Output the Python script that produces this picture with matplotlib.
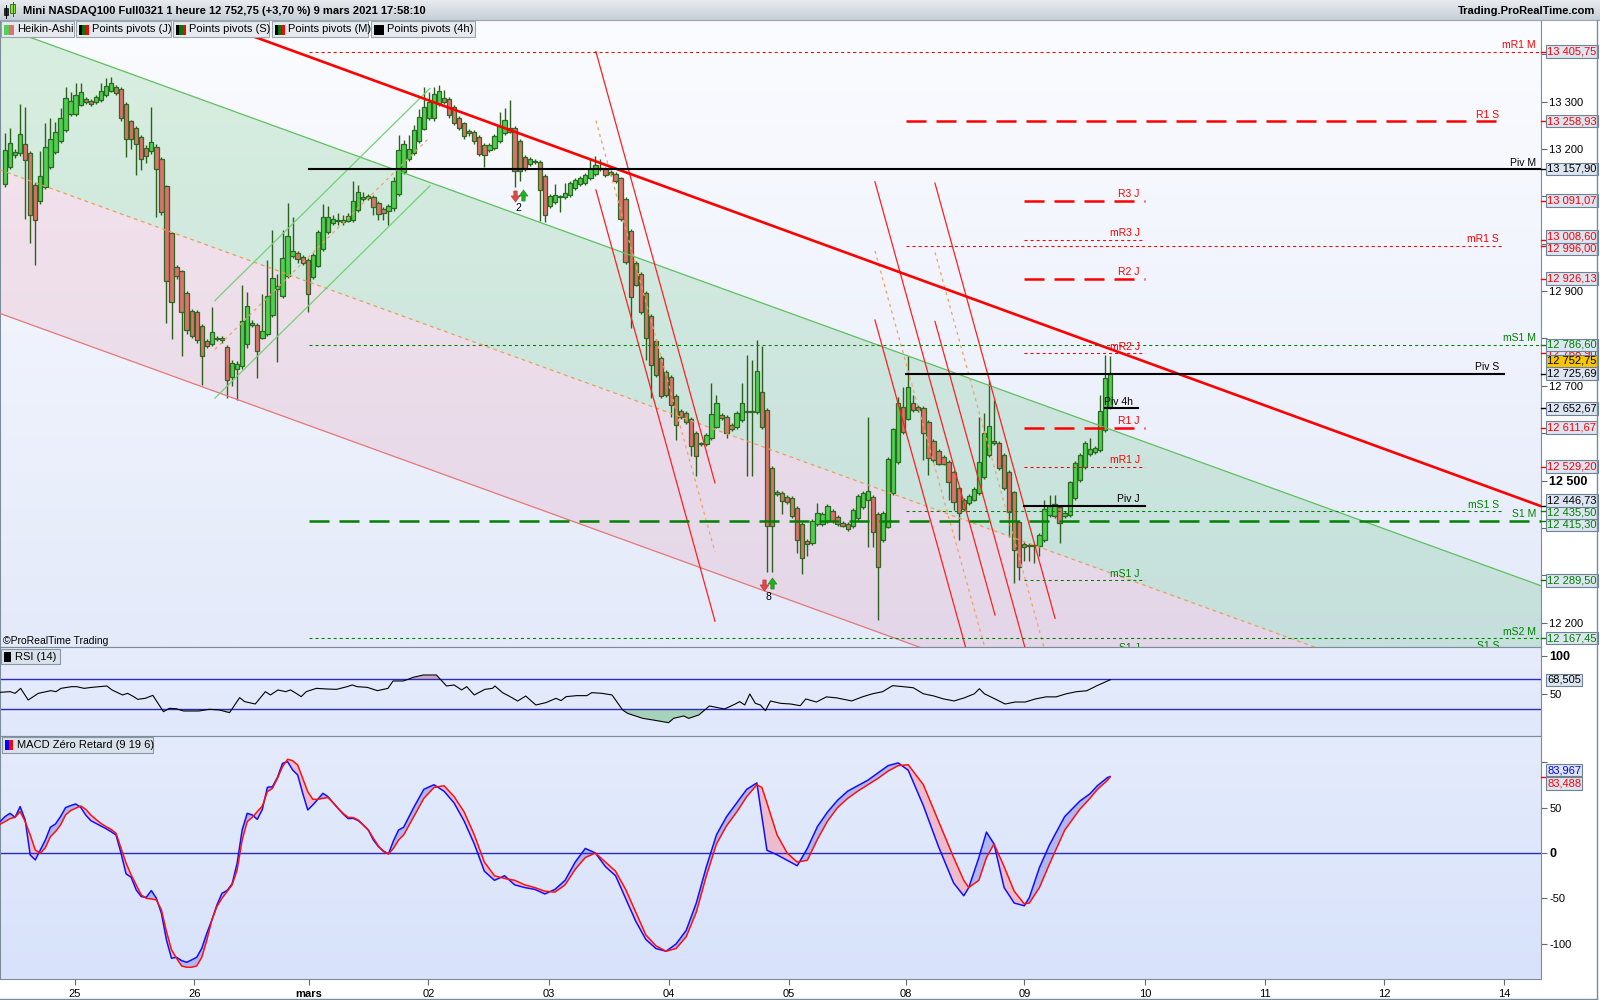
import numpy as np
import matplotlib.pyplot as plt
import matplotlib.transforms as mtransforms
from matplotlib.colors import LinearSegmentedColormap
from matplotlib.patches import Rectangle

plt.rcParams['font.family'] = ['Liberation Sans', 'DejaVu Sans']
plt.rcParams['font.size'] = 8

# ---------------- data (1 h Heikin-Ashi bars, 24 Feb evening -> 9 Mar 17h) ----------------
ha_open = [13127, 13163, 13187, 13191, 13210, 13192, 13125, 13090, 13120, 13162,
           13193, 13216, 13240, 13274, 13274, 13294, 13305, 13302, 13299, 13303,
           13314, 13323, 13332, 13326, 13296, 13259, 13244, 13226, 13203, 13196,
           13205, 13180, 13122, 13022, 12950, 12942, 12897, 12858, 12856, 12826,
           12794, 12788, 12799, 12800, 12783, 12719, 12735, 12742, 12788, 12829,
           12828, 12802, 12809, 12850, 12905, 12889, 12932, 12974, 12980, 12973,
           12966, 12929, 12954, 12990, 13024, 13043, 13048, 13047, 13049, 13050,
           13072, 13094, 13096, 13099, 13087, 13074, 13069, 13075, 13105, 13152,
           13179, 13191, 13217, 13242, 13265, 13265, 13296, 13307, 13305, 13289,
           13266, 13254, 13239, 13237, 13226, 13208, 13198, 13203, 13216, 13233,
           13245, 13245, 13218, 13183, 13169, 13175, 13173, 13143, 13079, 13089,
           13098, 13098, 13103, 13117, 13126, 13128, 13139, 13148, 13158, 13158,
           13152, 13148, 13138, 13095, 13028, 12960, 12936, 12896, 12848, 12795,
           12758, 12730, 12718, 12678, 12647, 12643, 12630, 12601, 12577, 12577,
           12589, 12614, 12639, 12635, 12617, 12613, 12628, 12644, 12644, 12645,
           12688, 12650, 12526, 12472, 12473, 12465, 12464, 12443, 12408, 12372,
           12368, 12408, 12408, 12415, 12435, 12424, 12411, 12408, 12404, 12420,
           12445, 12459, 12466, 12429, 12375, 12403, 12473, 12540, 12656, 12631,
           12663, 12656, 12653, 12624, 12584, 12563, 12549, 12540, 12519, 12485,
           12459, 12452, 12460, 12473, 12508, 12554, 12584, 12580, 12554, 12519,
           12475, 12413, 12366, 12364, 12363, 12361, 12375, 12427, 12425, 12444,
           12425, 12427, 12463, 12501, 12529, 12556, 12560, 12565, 12607, 12656]
ha_close = [13198, 13212, 13193, 13231, 13177, 13061, 13051, 13143, 13205, 13222,
            13237, 13265, 13307, 13302, 13314, 13320, 13299, 13295, 13309, 13323,
            13334, 13339, 13318, 13265, 13222, 13222, 13210, 13179, 13186, 13215,
            13158, 13067, 12922, 12878, 12931, 12856, 12818, 12805, 12797, 12763,
            12784, 12814, 12802, 12797, 12712, 12749, 12747, 12836, 12869, 12833,
            12774, 12816, 12890, 12928, 12910, 12970, 13017, 12985, 12968, 12960,
            12894, 12976, 13024, 13057, 13057, 13052, 13050, 13050, 13058, 13090,
            13110, 13099, 13100, 13078, 13063, 13064, 13080, 13132, 13199, 13210,
            13201, 13240, 13267, 13289, 13300, 13316, 13323, 13300, 13272, 13254,
            13245, 13227, 13233, 13216, 13190, 13187, 13208, 13228, 13248, 13262,
            13237, 13154, 13154, 13158, 13179, 13172, 13113, 13060, 13101, 13104,
            13100, 13107, 13128, 13135, 13139, 13145, 13158, 13167, 13160, 13145,
            13147, 13132, 13052, 12962, 12888, 12914, 12856, 12801, 12743, 12723,
            12678, 12680, 12660, 12617, 12634, 12624, 12574, 12551, 12578, 12596,
            12641, 12664, 12632, 12601, 12608, 12643, 12664, 12646, 12646, 12732,
            12613, 12404, 12404, 12476, 12457, 12455, 12425, 12374, 12336, 12366,
            12415, 12432, 12430, 12447, 12415, 12408, 12405, 12398, 12438, 12468,
            12473, 12477, 12392, 12318, 12431, 12545, 12608, 12663, 12603, 12698,
            12649, 12649, 12600, 12547, 12543, 12536, 12536, 12498, 12455, 12432,
            12439, 12467, 12483, 12540, 12601, 12615, 12579, 12526, 12484, 12434,
            12353, 12318, 12359, 12361, 12362, 12385, 12439, 12446, 12450, 12410,
            12431, 12496, 12538, 12554, 12579, 12566, 12568, 12646, 12716, 12724]
ha_high = [13233, 13244, 13200, 13296, 13289, 13196, 13130, 13196, 13254, 13265,
           13258, 13286, 13332, 13320, 13339, 13339, 13310, 13306, 13315, 13339,
           13349, 13352, 13335, 13330, 13300, 13262, 13248, 13230, 13208, 13289,
           13210, 13183, 13125, 13025, 12955, 12945, 12900, 12862, 12860, 12830,
           12798, 12867, 12806, 12805, 12787, 12755, 12752, 12914, 12898, 12838,
           12832, 12895, 12966, 13029, 12937, 13029, 13087, 13057, 12985, 12977,
           12970, 12980, 13030, 13085, 13080, 13060, 13065, 13060, 13065, 13132,
           13125, 13110, 13105, 13103, 13090, 13078, 13085, 13140, 13230, 13220,
           13230, 13250, 13285, 13330, 13320, 13330, 13335, 13325, 13310, 13293,
           13270, 13258, 13243, 13241, 13230, 13212, 13212, 13232, 13279, 13286,
           13303, 13249, 13222, 13187, 13183, 13179, 13177, 13147, 13105, 13126,
           13104, 13128, 13132, 13139, 13143, 13149, 13178, 13185, 13180, 13162,
           13156, 13152, 13142, 13099, 13032, 12964, 12940, 12900, 12852, 12799,
           12762, 12734, 12722, 12682, 12651, 12647, 12634, 12605, 12582, 12600,
           12706, 12680, 12643, 12639, 12621, 12647, 12706, 12766, 12755, 12796,
           12785, 12654, 12530, 12480, 12477, 12469, 12468, 12447, 12412, 12376,
           12419, 12453, 12434, 12451, 12439, 12428, 12415, 12412, 12442, 12472,
           12477, 12635, 12470, 12433, 12435, 12549, 12612, 12677, 12698, 12762,
           12681, 12660, 12657, 12628, 12588, 12567, 12553, 12544, 12523, 12489,
           12463, 12471, 12487, 12635, 12642, 12712, 12670, 12584, 12558, 12523,
           12479, 12417, 12370, 12368, 12367, 12389, 12459, 12470, 12470, 12448,
           12435, 12500, 12542, 12558, 12583, 12590, 12572, 12680, 12765, 12762]
ha_low = [13120, 13158, 13182, 13186, 13053, 13001, 12956, 13085, 13115, 13158,
          13190, 13212, 13236, 13270, 13270, 13290, 13295, 13290, 13296, 13300,
          13310, 13320, 13315, 13260, 13184, 13200, 13145, 13156, 13170, 13190,
          13057, 13060, 12832, 12799, 12925, 12763, 12810, 12800, 12790, 12702,
          12780, 12785, 12795, 12790, 12674, 12700, 12670, 12735, 12780, 12825,
          12717, 12798, 12805, 12845, 12750, 12885, 12928, 12970, 12960, 12955,
          12857, 12925, 12950, 12985, 13020, 13040, 13040, 13040, 13045, 13045,
          13068, 13090, 13092, 13060, 13050, 13050, 13040, 13070, 13100, 13148,
          13175, 13188, 13213, 13240, 13262, 13260, 13290, 13295, 13265, 13250,
          13240, 13222, 13228, 13211, 13185, 13162, 13194, 13199, 13212, 13229,
          13233, 13120, 13132, 13154, 13165, 13168, 13049, 13045, 13075, 13085,
          13067, 13094, 13099, 13113, 13122, 13124, 13135, 13144, 13154, 13141,
          13143, 13128, 13048, 12958, 12822, 12910, 12852, 12755, 12675, 12719,
          12674, 12676, 12634, 12585, 12630, 12620, 12551, 12510, 12573, 12573,
          12585, 12610, 12628, 12590, 12604, 12609, 12624, 12510, 12510, 12641,
          12609, 12306, 12306, 12468, 12430, 12451, 12421, 12347, 12302, 12340,
          12364, 12404, 12404, 12411, 12411, 12404, 12401, 12394, 12400, 12416,
          12441, 12360, 12360, 12206, 12371, 12399, 12469, 12536, 12599, 12627,
          12645, 12645, 12543, 12512, 12539, 12532, 12532, 12459, 12438, 12375,
          12435, 12448, 12456, 12469, 12504, 12550, 12575, 12522, 12480, 12380,
          12283, 12290, 12330, 12330, 12325, 12340, 12371, 12423, 12421, 12368,
          12421, 12423, 12459, 12497, 12525, 12552, 12556, 12561, 12603, 12652]

day_ticks = [13.8, 37.5, 60.2, 83.9, 107.8, 131.6, 155.4, 178.6, 202.0, 225.9, 249.7, 273.3, 297.1]
day_labels = ['25', '26', 'mars', '02', '03', '04', '05', '08', '09', '10', '11', '12', '14']

piv_names = ['mR1 M', 'Piv M', 'mS1 M', 'S1 M', 'mS2 M',
             'R1 S', 'mR1 S', 'Piv S', 'mS1 S', 'S1 S',
             'R3 J', 'mR3 J', 'R2 J', 'mR2 J', 'R1 J', 'mR1 J', 'Piv J', 'mS1 J', 'S1 J',
             'Piv 4h']
piv_values = [13405.75, 13157.90, 12786.60, 12415.30, 12167.45,
              13258.93, 12996.00, 12725.69, 12435.50, 12138.00,
              13091.07, 13008.60, 12926.13, 12768.90, 12611.67, 12529.20, 12446.73, 12289.50, 12132.27,
              12652.67]
piv_period = ['M'] * 5 + ['S'] * 5 + ['J'] * 9 + ['4h']
period_start = {'M': 60.2, 'S': 178.6, 'J': 202.0, '4h': 218.0}
period_end = {'M': 304.4, 'S': 297.1, 'J': 225.9, '4h': 224.5}

last_price = 12752.75
rsi_last = 68.505
macd_last = 83.967
signal_last = 83.488

# drawn objects (bar index, price)
trend_bars = [-1.0, 304.4]
trend_prices = [13633, 12446]
reg_bars = [-1.0, 304.4]
reg_mid = [13156, 11975]
reg_half = 303
rise_bars = [41.6, 84.2]
rise_mid = [12777, 13225]
rise_half = 103
steep_bars = [(117.1, 140.7), (172.4, 196.2), (184.3, 208.1)]
steep_top = [(13406, 12495), (13131, 12216), (13128, 12209)]
steep_width = 292
signal_bars = [101.8, 151.2]
signal_prices = [13100, 12280]
signal_counts = ['2', '8']

rsi_bars = [-1.0, 1.0, 2.0, 3.1, 4.6, 6.6, 9.1, 10.1, 11.1, 13.2, 14.2, 15.7, 17.2, 20.2, 21.2, 23.3,
            24.3, 25.5, 26.3, 27.8, 29.3, 31.4, 32.6, 33.9, 35.4, 38.4, 40.5, 42.5, 44.5, 46.5, 47.5,
            49.6, 51.6, 52.6, 54.1, 55.6, 56.6, 57.7, 58.7, 59.7, 61.7, 63.7, 65.7, 67.8, 68.8, 69.8,
            71.8, 73.8, 75.9, 76.9, 78.9, 79.9, 80.9, 82.9, 85.5, 87.5, 89.0, 90.5, 91.5, 93.0, 95.1,
            96.6, 97.1, 98.6, 100.1, 101.6, 103.2, 105.2, 107.2, 109.2, 110.2, 111.2, 113.3, 115.3,
            116.3, 118.3, 120.3, 122.4, 123.4, 126.4, 128.4, 131.5, 132.5, 134.5, 135.5, 137.5, 139.6,
            142.6, 144.6, 145.6, 146.6, 147.6, 148.7, 149.7, 150.7, 151.7, 153.7, 155.7, 157.6,
            158.7, 160.8, 162.8, 164.8, 167.8, 169.9, 171.9, 173.9, 175.9, 178.0, 180.0, 182.0,
            184.0, 186.0, 188.1, 190.1, 192.1, 193.1, 194.1, 196.2, 198.2, 200.2, 202.2, 204.2,
            206.3, 208.3, 210.3, 212.3, 214.4, 216.4, 219.0]
rsi_vals = [52.2, 53.1, 50.9, 57.4, 42.2, 50.9, 54.4, 53.1, 57.4, 59.6, 59.6, 57.4, 58.7, 60.5, 55.3, 48.8,
            50.9, 46.6, 43.1, 44.4, 48.3, 27.0, 31.4, 30.9, 27.9, 27.9, 30.1, 29.2, 25.7, 45.3, 40.1,
            37.0, 53.1, 48.8, 55.3, 53.1, 55.3, 50.9, 46.6, 53.1, 57.4, 56.6, 56.1, 59.6, 61.8, 59.6,
            58.7, 54.4, 57.4, 67.0, 67.0, 69.2, 71.8, 74.8, 74.8, 60.5, 61.8, 55.3, 59.6, 48.8, 56.1,
            57.4, 60.5, 51.8, 46.6, 40.9, 47.4, 35.7, 38.8, 44.4, 41.4, 46.6, 47.9, 47.9,
            51.8, 50.9, 48.8, 29.2, 24.8, 18.3, 16.2, 12.7, 18.3, 21.4, 18.3, 22.7, 34.4,
            30.5, 36.6, 40.1, 35.7, 50.1, 37.9, 35.7, 28.3, 40.9, 37.9, 37.0, 34.8,
            43.6, 39.6, 46.3, 45.0, 41.0, 46.3, 50.3, 53.0, 60.9, 59.6, 58.2, 50.3,
            47.6, 43.6, 41.0, 45.0, 50.3, 56.9, 50.3, 43.6, 37.0, 39.6, 39.6, 43.6,
            46.3, 46.3, 50.3, 53.0, 54.3, 60.9, 68.5]

# MACD zero lag: one value per bar from -1 to 79, then sampled points
macd_blue_a = [34.5, 40.0, 43.6, 39.2, 51.0, 36.3, -2.2, -7.6, 3.3, 14.3,
               28.3, 31.9, 40.0, 49.9, 52.1, 53.9, 50.2, 41.8, 35.6, 32.6,
               29.7, 26.8, 23.5, 19.8, -0.3, -23.0, -26.7, -40.6, -47.9, -48.7,
               -41.3, -49.8, -66.3, -95.6, -115.7, -114.6, -118.3, -120.1, -117.5, -114.6,
               -104.7, -88.2, -73.6, -57.1, -44.3, -41.3, -34.0, -11.3, 25.3, 43.6,
               41.8, 37.0, 48.0, 72.2, 72.9, 83.2, 98.6, 100.4, 91.3, 85.8,
               65.6, 47.3, 52.8, 59.0, 65.6, 61.9, 55.4, 49.1, 42.9, 37.8,
               38.1, 35.6, 30.8, 25.3, 14.3, 7.0, 2.2, -1.0, 13.6, 25.3, 28.3]
macd_red_a = [31.5, 34.5, 37.8, 39.2, 45.5, 34.5, 19.8, 3.3, -0.3, 5.9,
              18.0, 23.5, 30.8, 41.8, 46.6, 49.1, 51.7, 48.0, 41.8, 37.0,
              32.6, 29.0, 26.1, 21.7, 5.2, -11.3, -24.1, -35.1, -46.1, -49.8,
              -50.5, -51.6, -62.6, -86.4, -106.5, -115.7, -124.1, -125.6, -125.6, -124.1,
              -114.6, -95.6, -73.6, -58.9, -49.8, -42.4, -35.1, -18.6, 14.3, 34.5,
              39.2, 45.5, 51.7, 67.4, 71.1, 82.1, 94.9, 103.0, 101.5, 96.7,
              82.1, 67.4, 59.0, 59.0, 60.1, 60.9, 55.4, 49.1, 43.6, 39.2,
              38.9, 36.3, 30.8, 25.3, 16.2, 7.7, 1.5, -1.0, 5.2, 14.3, 19.8]
macd_bars_b = [81, 83, 85, 87, 89, 91, 93, 95, 97, 99, 101, 103, 105, 107, 109, 111, 113, 115, 117, 119,
               121, 123, 125, 127, 129, 131, 133, 135, 137, 139, 141, 143, 145, 147, 149,
               150, 151, 153, 155, 157, 159, 161, 163, 165, 167, 169, 171, 173, 175, 177, 179,
               182, 185, 188, 190, 191, 193, 194.5, 196, 198, 200, 202, 203, 205, 207, 210, 213, 215,
               216.5, 218.5, 219]
macd_blue_b = [50, 70, 75, 68, 55, 35, 10, -20, -30, -25, -35, -38, -40, -45, -40, -30, -10, 5, 0, -15,
               -25, -50, -75, -95, -105, -108, -100, -85, -55, -15, 20, 40, 55, 70, 77,
               40, 3, -2, -8, -14, 5, 29, 45, 58, 68, 74, 80, 88, 96, 99, 91,
               52, 7, -33, -47, -38, -5, 23, 10, -38, -55, -58, -49, -16, 9, 40, 57, 65,
               74, 83, 84.0]
macd_red_b = [40, 60, 72, 74, 62, 45, 20, -10, -25, -28, -30, -35, -38, -42, -43, -35, -18, -5, 0, -10,
              -20, -40, -65, -90, -102, -108, -105, -92, -65, -25, 10, 30, 45, 62, 75,
              72, 55, 20, 0, -10, -8, 15, 35, 50, 60, 68, 75, 82, 90, 96, 97,
              75, 35, -5, -30, -38, -30, -5, 10, -15, -42, -56, -55, -38, -12, 25, 48, 60,
              70, 80, 83.5]

# ---------------- figure ----------------
W, H = 1600, 1000
fig = plt.figure(figsize=(W / 100, H / 100), dpi=100)
fig.patch.set_facecolor('white')


def panel(top, bottom):
    return fig.add_axes([0, 1 - bottom / H, 1541 / W, (bottom - top) / H])


ax = panel(20, 647)
ax_rsi = panel(647, 736)
ax_macd = panel(736, 979)
XL = (-0.99, 304.4)
GRID = '#7d8c99'


def shade(a, top, bottom):
    cm = LinearSegmentedColormap.from_list('bg', [bottom, top])
    a.imshow(np.linspace(0, 1, 256).reshape(-1, 1), extent=(0, 1, 0, 1), transform=a.transAxes,
             origin='lower', aspect='auto', cmap=cm, zorder=-10)


shade(ax, '#fbfcff', '#e4eafa')
shade(ax_rsi, '#e6ecfc', '#e0e8fb')
shade(ax_macd, '#e4ebfc', '#d8e2fa')
for a in (ax, ax_rsi, ax_macd):
    a.set_xlim(*XL)
    for s in a.spines.values():
        s.set_color(GRID)
    a.yaxis.tick_right()
    a.tick_params(axis='x', bottom=False, labelbottom=False)
    a.tick_params(axis='y', length=4, width=0.8, color='#5d6c78', pad=2, labelsize=8)

ax.set_ylim(12148.6, 13472.5)
ax_rsi.set_ylim(-4.7, 111.3)
ax_macd.set_ylim(-138.5, 128.6)

fmt = lambda v, d=2: f"{v:,.{d}f}".replace(',', ' ').replace('.', ',')

# regression channel
rb = np.array(reg_bars)
rm = np.array(reg_mid)
ax.fill_between(rb, rm, rm + reg_half, color='#2fae4a', alpha=0.17, lw=0, zorder=1)
ax.fill_between(rb, rm - reg_half, rm, color='#e0607f', alpha=0.14, lw=0, zorder=1)
ax.plot(rb, rm + reg_half, color='#5cc05c', lw=0.9, zorder=6)
ax.plot(rb, rm, color='#f59a5a', lw=0.9, ls=(0, (3, 3)), zorder=6)
ax.plot(rb, rm - reg_half, color='#e47878', lw=0.9, zorder=6)

# candles
x = np.arange(len(ha_close))
o = np.array(ha_open, float)
c = np.array(ha_close, float)
up = c >= o
ax.vlines(x, ha_low, ha_high, color='#2f5f1c', lw=1, zorder=3)
ax.bar(x, np.maximum(np.abs(c - o), 2.0), bottom=np.minimum(o, c), width=0.86,
       color=np.where(up, '#4fcf4f', '#e0706b'), edgecolor='#2b6a23', linewidth=0.9, zorder=4)

# rising channel (26 Feb -> 2 Mar)
kb = np.array(rise_bars)
km = np.array(rise_mid)
ax.plot(kb, km + rise_half, color='#72d272', lw=0.9, zorder=6)
ax.plot(kb, km - rise_half, color='#72d272', lw=0.9, zorder=6)
ax.plot(kb, km, color='#f5a060', lw=0.9, ls=(0, (2.5, 3)), zorder=6)

# steep channels
for (b0, b1), (t0, t1) in zip(steep_bars, steep_top):
    tb = np.array([t0, t1])
    ax.plot([b0, b1], tb, color='#ff2020', lw=0.9, zorder=6)
    ax.plot([b0, b1], tb - steep_width, color='#ff2020', lw=0.9, zorder=6)
    ax.plot([b0, b1], tb - steep_width / 2, color='#f5a060', lw=0.9, ls=(0, (2.5, 3)), zorder=6)

# main trendline
ax.plot(trend_bars, trend_prices, color='#ff0000', lw=1.9, zorder=7, solid_capstyle='butt')

# pivot points
RED, GREEN = '#ff0000', '#008000'
for name, val, per in zip(piv_names, piv_values, piv_period):
    x0, x1 = period_start[per], period_end[per]
    if name.startswith('Piv'):
        col, ls, lw = 'black', '-', 1.5
    elif name.startswith('m'):
        col, ls, lw = (RED if 'R' in name else GREEN), (0, (2.9, 2.9)), 0.75
    else:
        col, ls, lw = (RED if 'R' in name else GREEN), (0, (8, 4)), 1.8
    ax.plot([x0, x1], [val, val], color=col, ls=ls, lw=lw, zorder=8)
    ax.text(x1 - 1.0, val + 3, name, color=col, ha='right', va='bottom', fontsize=7.5, zorder=9)

# signal counts
down_arrow = [(-0.3, 1), (0.3, 1), (0.3, 0.1), (0.8, 0.1), (0, -1), (-0.8, 0.1), (-0.3, 0.1), (-0.3, 1)]
up_arrow = [(px, -py) for px, py in down_arrow]
for b, p, n in zip(signal_bars, signal_prices, signal_counts):
    ax.plot([b - 0.8], [p], marker=down_arrow, ms=8, color='#e04848', mec='#b03030', mew=0.4,
            ls='none', zorder=9)
    ax.plot([b + 0.9], [p + 4], marker=up_arrow, ms=8, color='#22b022', mec='#188018', mew=0.4,
            ls='none', zorder=9)
    ax.text(b, p - 25, n, color='black', fontsize=7.5, ha='center', va='center', zorder=9)

ax.text(3 / 1541, 6 / 627, '\u00a9ProRealTime Trading', transform=ax.transAxes, fontsize=7.5,
        ha='left', va='center', zorder=9)


def spread(vals, gap):
    v = np.array(vals, float)
    order = np.argsort(-v)
    y = v[order].copy()
    for _ in range(300):
        moved = False
        for i in range(len(y) - 1):
            d = y[i] - y[i + 1]
            if d < gap - 1e-6:
                y[i] += (gap - d) / 2
                y[i + 1] -= (gap - d) / 2
                moved = True
        if not moved:
            break
    out = np.empty_like(y)
    out[order] = y
    return out


BOX = dict(boxstyle='square,pad=0.12', fc='#dde5f2', ec='#6f8294', lw=0.8)
LBX = 1547 / W


def value_box(a, y, text, col, fc=None, z=10):
    bb = dict(BOX)
    if fc:
        bb['fc'] = fc
    blend = mtransforms.blended_transform_factory(fig.transFigure, a.transData)
    a.text(LBX, y, text, transform=blend, color=col, fontsize=8, ha='left', va='center',
           bbox=bb, clip_on=False, zorder=z)


def box_tick(a, y, col):
    blend = mtransforms.blended_transform_factory(fig.transFigure, a.transData)
    a.plot([1541 / W, 1546 / W], [y, y], transform=blend, color=col, lw=1, clip_on=False, zorder=10)


lo, hi = ax.get_ylim()
shown = [(n, v) for n, v in zip(piv_names, piv_values) if lo < v < hi and n != 'mR2 J']
hidden = [(n, v) for n, v in zip(piv_names, piv_values) if n == 'mR2 J']
col_of = lambda n: 'black' if n.startswith('Piv') else (RED if 'R' in n else GREEN)
ys = spread([v for _, v in shown] + [last_price], 26)
for n, v in hidden:
    box_tick(ax, v, col_of(n))
    value_box(ax, v, fmt(v), col_of(n), z=10)
for (n, v), yy in zip(shown, ys[:-1]):
    box_tick(ax, v, col_of(n))
    value_box(ax, yy, fmt(v), col_of(n), z=11)
value_box(ax, last_price, fmt(last_price), 'black', fc='#f7c600', z=12)

# price scale: labels hidden where a value box covers them
ticks = list(range(12200, 13401, 100))
box_ys = list(ys) + [v for _, v in hidden]
ax.set_yticks(ticks)
ax.set_yticklabels(['' if min(abs(t - b) for b in box_ys) < 22 else fmt(t, 0) for t in ticks])
for t, lab in zip(ticks, ax.get_yticklabels()):
    if t == 12500:
        lab.set_fontweight('bold')
        lab.set_fontsize(9)

# RSI
rx = np.array(rsi_bars)
ry = np.array(rsi_vals)
ax_rsi.fill_between(rx, ry, 70, where=ry >= 70, interpolate=True, color='#cdaabb', lw=0, zorder=1)
ax_rsi.fill_between(rx, ry, 30, where=ry <= 30, interpolate=True, color='#a6d2bb', lw=0, zorder=1)
ax_rsi.axhline(70, color='#2a2ac0', lw=1, zorder=2)
ax_rsi.axhline(30, color='#2a2ac0', lw=1, zorder=2)
ax_rsi.plot(rx, ry, color='black', lw=0.8, zorder=3)
ax_rsi.set_yticks([50, 100])
ax_rsi.set_yticklabels(['50', '100'])
ax_rsi.get_yticklabels()[1].set_fontweight('bold')
ax_rsi.get_yticklabels()[1].set_fontsize(9)
value_box(ax_rsi, rsi_last, fmt(rsi_last, 3), 'black')

# MACD
mx = np.concatenate([np.arange(-1, 80), macd_bars_b]).astype(float)
mb = np.array(macd_blue_a + macd_blue_b, float)
mr = np.array(macd_red_a + macd_red_b, float)
ax_macd.axhline(0, color='#2a2ac0', lw=1, zorder=2)
ax_macd.fill_between(mx, mb, mr, where=mb >= mr, interpolate=True, color='#b2b6f2', lw=0, zorder=1)
ax_macd.fill_between(mx, mb, mr, where=mb < mr, interpolate=True, color='#ecbccc', lw=0, zorder=1)
ax_macd.plot(mx, mb, color='#1010ff', lw=1.1, zorder=3)
ax_macd.plot(mx, mr, color='#ff1010', lw=1.1, zorder=3)
mt = [-100, -50, 0, 50, 100]
ax_macd.set_yticks(mt)
ax_macd.set_yticklabels(['-100', '-50', '0', '50', ''])
ax_macd.get_yticklabels()[2].set_fontweight('bold')
ax_macd.get_yticklabels()[2].set_fontsize(9)
my = spread([macd_last, signal_last], 15)
box_tick(ax_macd, signal_last, '#ff0000')
value_box(ax_macd, my[0], fmt(macd_last, 3), '#0000ff')
value_box(ax_macd, my[1], fmt(signal_last, 3), '#ff0000')

ax_macd.set_xticks(day_ticks)
ax_macd.set_xticklabels(day_labels)
ax_macd.tick_params(axis='x', bottom=True, labelbottom=True, length=4, width=0.8, color='#5d6c78',
                    pad=3, labelsize=8)
for lab in ax_macd.get_xticklabels():
    if lab.get_text() == 'mars':
        lab.set_fontweight('bold')

# ---------------- decorations (pixel space) ----------------
deco = fig.add_axes([0, 0, 1, 1], zorder=20)
deco.patch.set_visible(False)
deco.axis('off')
hc = LinearSegmentedColormap.from_list('hd', ['#e8ecf0', '#c6ced6'])
deco.imshow(np.linspace(0, 1, 64).reshape(-1, 1), extent=(0, W, 20, 0), cmap=hc, aspect='auto',
            origin='upper', zorder=0)
deco.set_xlim(0, W)
deco.set_ylim(H, 0)
deco.plot([0, W], [20, 20], color='#9aa6b1', lw=0.8)
# chart icon
deco.add_patch(Rectangle((4, 8), 4, 7, fc='#333333', ec='black', lw=0.5))
deco.plot([6, 6], [5, 18], color='black', lw=0.7)
deco.add_patch(Rectangle((10, 4), 5, 9, fc='#8ee03a', ec='#2f6a10', lw=0.6))
deco.plot([12.5, 12.5], [2, 16], color='#2f6a10', lw=0.7)
deco.text(23, 11, 'Mini NASDAQ100 Full0321 1 heure 12 752,75 (+3,70 %) 9 mars 2021 17:58:10',
          fontsize=8, fontweight='bold', ha='left', va='center')
deco.text(1595, 11, 'Trading.ProRealTime.com', fontsize=8, fontweight='bold', ha='right', va='center')

tabs = [(0, 74, 'Heikin-Ashi', ['#55d055', '#e07070']),
        (75, 171, 'Points pivots (J)', ['#000000', '#007800', '#ff0000']),
        (172, 269, 'Points pivots (S)', ['#000000', '#007800', '#ff0000']),
        (271, 368, 'Points pivots (M)', ['#000000', '#007800', '#ff0000']),
        (370, 475, 'Points pivots (4h)', ['#000000'])]
for x0, x1, label, cols in tabs:
    deco.add_patch(Rectangle((x0 + 0.5, 21), x1 - x0 - 1, 16, fc='#e6eaee', ec='#98a4ae', lw=0.8))
    w = 10 / len(cols)
    for k, cc in enumerate(cols):
        deco.add_patch(Rectangle((x0 + 4 + k * w, 24.5), w, 10, fc=cc, ec='none'))
    deco.text(x0 + 17, 29.5, label, fontsize=8, ha='left', va='center')

deco.add_patch(Rectangle((1, 649), 59, 15, fc='#d9e1eb', ec='#8a98a6', lw=0.8))
deco.add_patch(Rectangle((4, 651.5), 7, 10, fc='black', ec='none'))
deco.text(15, 656.5, 'RSI (14)', fontsize=8, ha='left', va='center')
deco.add_patch(Rectangle((2, 737), 151, 16, fc='#d9e1eb', ec='#8a98a6', lw=0.8))
deco.add_patch(Rectangle((5, 740), 4, 10, fc='#0000ff', ec='none'))
deco.add_patch(Rectangle((9, 740), 4, 10, fc='#ff0000', ec='none'))
deco.text(17, 745, 'MACD Z\u00e9ro Retard (9 19 6)', fontsize=8, ha='left', va='center')

deco.plot([1597, 1597], [20, 1000], color='#7d8c99', lw=1)
deco.plot([0, 1597], [999, 999], color='#7d8c99', lw=1)

fig.savefig('out.png', dpi=100)
